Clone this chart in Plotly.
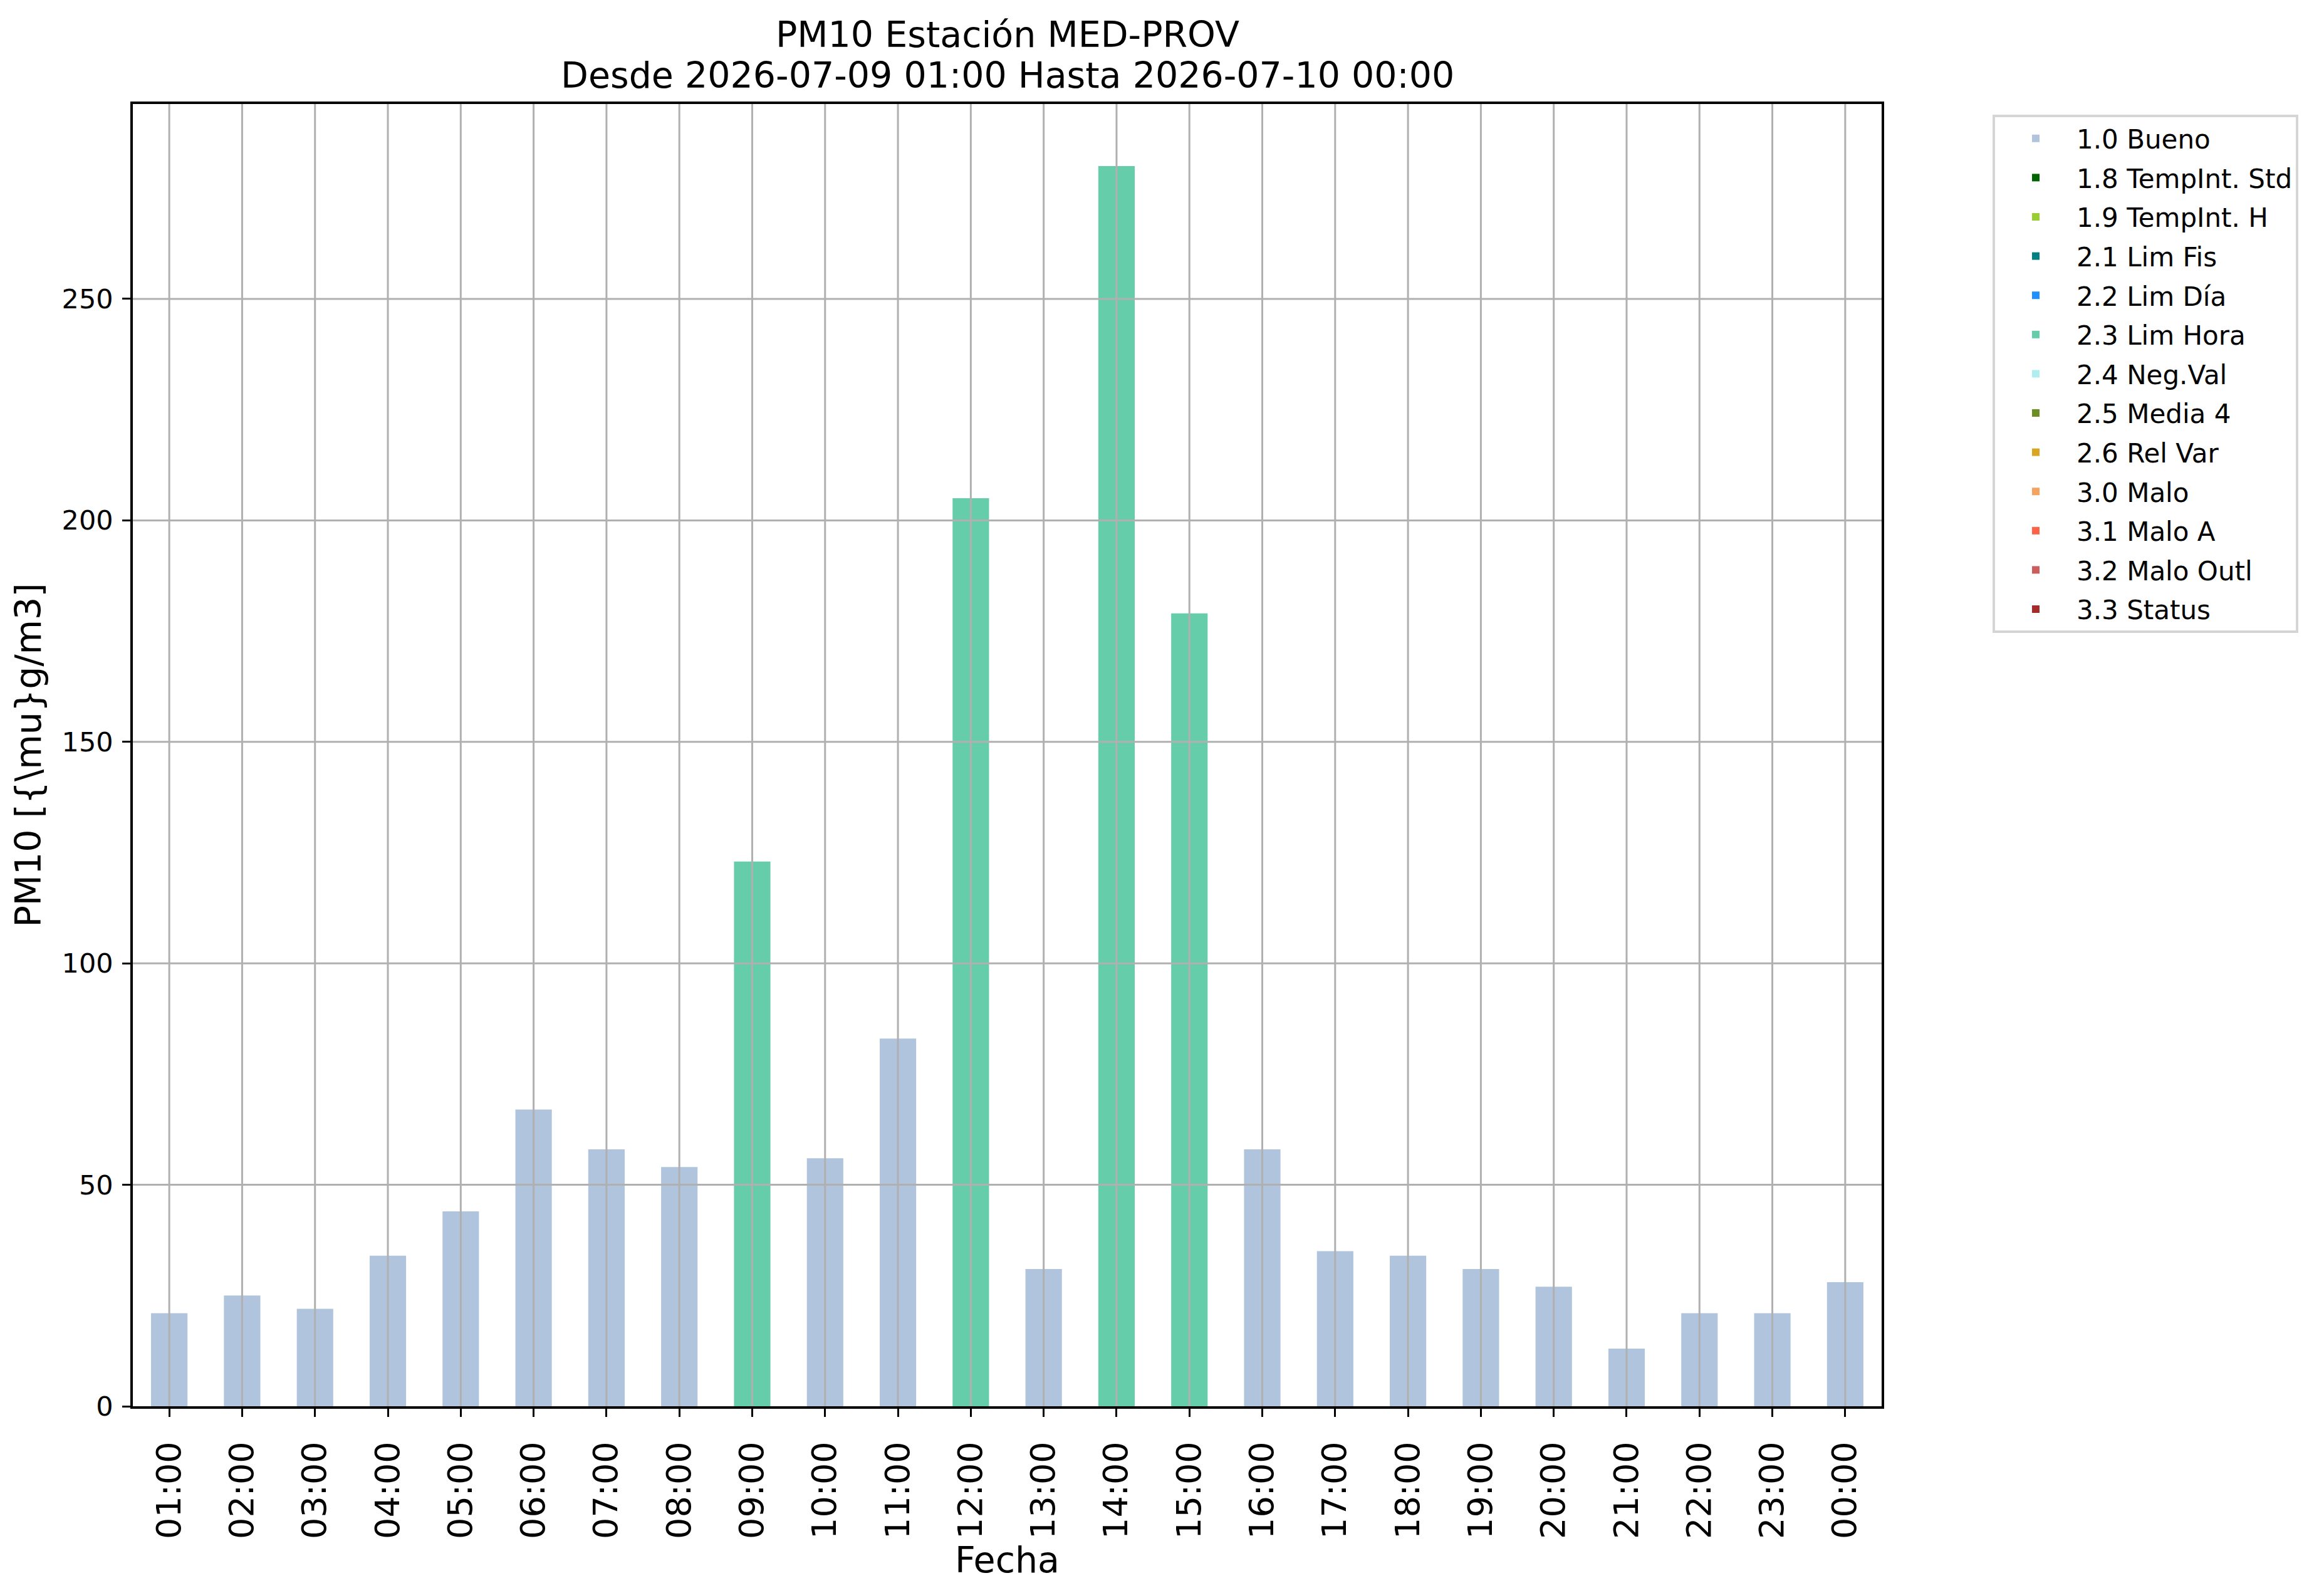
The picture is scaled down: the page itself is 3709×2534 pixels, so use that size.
import plotly.graph_objects as go

hours = ["01:00", "02:00", "03:00", "04:00", "05:00", "06:00", "07:00", "08:00",
         "09:00", "10:00", "11:00", "12:00", "13:00", "14:00", "15:00", "16:00",
         "17:00", "18:00", "19:00", "20:00", "21:00", "22:00", "23:00", "00:00"]
pm10 = [21, 25, 22, 34, 44, 67, 58, 54, 123, 56, 83, 205, 31, 280, 179, 58,
        35, 34, 31, 27, 13, 21, 21, 28]
flags = ["1.0 Bueno", "1.0 Bueno", "1.0 Bueno", "1.0 Bueno", "1.0 Bueno", "1.0 Bueno",
         "1.0 Bueno", "1.0 Bueno", "2.3 Lim Hora", "1.0 Bueno", "1.0 Bueno", "2.3 Lim Hora",
         "1.0 Bueno", "2.3 Lim Hora", "2.3 Lim Hora", "1.0 Bueno", "1.0 Bueno", "1.0 Bueno",
         "1.0 Bueno", "1.0 Bueno", "1.0 Bueno", "1.0 Bueno", "1.0 Bueno", "1.0 Bueno"]
categories = ["1.0 Bueno", "1.8 TempInt. Std", "1.9 TempInt. H", "2.1 Lim Fis",
              "2.2 Lim Día", "2.3 Lim Hora", "2.4 Neg.Val", "2.5 Media 4",
              "2.6 Rel Var", "3.0 Malo", "3.1 Malo A", "3.2 Malo Outl", "3.3 Status"]
colors = ["#B0C4DE", "#006400", "#9ACD32", "#008080", "#1E90FF", "#66CDAA",
          "#AFEEEE", "#6B8E23", "#DAA520", "#F4A460", "#FF6347", "#CD5C5C", "#A52A2A"]
ytick_vals = [0, 50, 100, 150, 200, 250]

FONT = "DejaVu Sans"
W, H = 3709, 2534
OFF = 8  # page body margin
L, R, T, B = 212 - OFF, 3003 - OFF, 166 - OFF, 2244 - OFF

fig = go.Figure()
for i, (cat, col) in enumerate(zip(categories, colors)):
    ys = [v if f == cat else None for v, f in zip(pm10, flags)]
    fig.add_trace(go.Bar(x=hours, y=ys, name=cat, marker=dict(color=col, line=dict(width=0)),
                         width=0.5, legendgroup=cat))

shapes = []
for h in hours:
    shapes.append(dict(type="line", xref="x", yref="paper", x0=h, x1=h, y0=0, y1=1,
                       line=dict(color="#b0b0b0", width=3), layer="above"))
for v in ytick_vals[1:]:
    shapes.append(dict(type="line", xref="paper", yref="y", x0=0, x1=1, y0=v, y1=v,
                       line=dict(color="#b0b0b0", width=3), layer="above"))

ph = B - T
def ypaper(px):
    return 1 + (T - (px - OFF)) / ph

fig.update_layout(
    width=W, height=H,
    margin=dict(l=L, r=W - R, t=T, b=H - B, autoexpand=False),
    paper_bgcolor="white", plot_bgcolor="white",
    barmode="overlay",
    font=dict(family=FONT, color="black", size=42),
    shapes=shapes,
    showlegend=True,
    legend=dict(x=(3180 - OFF - L) / (R - L), y=ypaper(183), xanchor="left", yanchor="top",
                bordercolor="#d5d5d5", borderwidth=4, bgcolor="white",
                font=dict(family=FONT, size=42), tracegroupgap=5,
                itemwidth=120),
    annotations=[
        dict(text="PM10 Estación MED-PROV", xref="paper", yref="paper", x=0.5, y=ypaper(55),
             xanchor="center", yanchor="middle", showarrow=False, font=dict(family=FONT, size=57)),
        dict(text="Desde 2026-07-09 01:00 Hasta 2026-07-10 00:00", xref="paper", yref="paper",
             x=0.5, y=ypaper(120), xanchor="center", yanchor="middle", showarrow=False,
             font=dict(family=FONT, size=57)),
    ],
    xaxis=dict(type="category", range=[-0.5, 23.5], showgrid=False, zeroline=False,
               showline=True, linecolor="black", linewidth=3.5, mirror=True,
               ticks="outside", ticklen=13, tickwidth=3, tickcolor="black",
               tickangle=-90, tickfont=dict(family=FONT, size=54),
               ticklabelstandoff=18,
               title=dict(text="Fecha", font=dict(family=FONT, size=57), standoff=0)),
    yaxis=dict(range=[0, 294], showgrid=False, zeroline=False,
               showline=True, linecolor="black", linewidth=3.5, mirror=True,
               ticks="outside", ticklen=13, tickwidth=3, tickcolor="black",
               tickvals=ytick_vals, tickfont=dict(family=FONT, size=43),
               ticklabelstandoff=6,
               title=dict(text="PM10 [{\\mu}g/m3]", font=dict(family=FONT, size=57), standoff=16)),
)

fig.write_html("out.html")
